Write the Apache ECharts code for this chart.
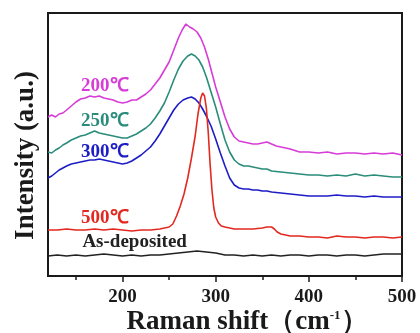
<!DOCTYPE html>
<html>
<head>
<meta charset="utf-8">
<script src="https://cdn.jsdelivr.net/npm/echarts@6/dist/echarts.min.js"></script>
<style>
  html, body { margin: 0; padding: 0; background: #fff; }
  #chart { width: 420px; height: 333px; }
</style>
</head>
<body>
<div id="chart"></div>
<script>
// values are relative offsets (a.u.)
const s200 = [[120,159],[124,161],[128,159],[132,162],[136,163],[140,166],[145,170],[150,174],[155,177],[160,178],[165,180],[170,179],[175,180],[180,178],[185,177],[190,176],[195,174],[200,173],[205,174],[210,176],[215,176],[220,179],[225,182],[230,186],[235,192],[240,198],[245,206],[250,214],[255,226],[260,238],[264,246],[268,252],[272,249],[276,247],[280,244],[284,238],[288,229],[292,217],[296,203],[300,189],[305,174],[310,159],[315,147],[320,139],[325,135],[330,134],[335,133],[340,132],[345,132],[350,133],[355,134],[360,132],[365,130],[370,129],[380,127],[390,124],[400,124],[410,123],[420,124],[430,122],[440,123],[450,123],[460,122],[470,123],[480,122],[490,123],[500,121]]
const s250 = [[120,124],[124,123],[128,126],[132,128],[136,131],[140,133],[145,136],[150,138],[155,140],[160,141],[165,143],[170,145],[175,143],[180,142],[185,141],[190,140],[195,139],[200,138],[205,138],[210,140],[215,142],[220,145],[225,148],[230,152],[235,158],[240,165],[245,173],[250,184],[255,196],[260,207],[265,215],[270,220],[274,222],[278,220],[282,216],[286,209],[290,199],[295,184],[300,169],[305,152],[310,136],[315,124],[320,116],[325,112],[330,110],[335,110],[340,109],[345,108],[350,107],[355,107],[360,105],[370,104],[380,103],[390,102],[400,101],[410,101],[420,100],[430,101],[440,100],[450,102],[460,100],[470,101],[480,100],[490,99],[500,99]]
const s300 = [[120,98],[124,100],[128,103],[132,106],[136,108],[140,110],[145,112],[150,113],[155,114],[160,115],[165,116],[170,116],[175,117],[180,116],[185,115],[190,114],[195,113],[200,112],[205,113],[210,115],[215,118],[220,121],[225,125],[230,129],[235,135],[240,142],[245,150],[250,158],[255,166],[260,172],[265,176],[270,178],[274,179],[278,177],[282,173],[286,167],[290,160],[295,150],[300,137],[305,123],[310,110],[315,98],[320,91],[325,88],[330,87],[335,87],[340,86],[345,86],[350,85],[355,85],[360,84],[370,83],[380,82],[390,81],[400,80],[410,80],[420,80],[430,81],[440,80],[450,80],[460,79],[470,80],[480,79],[490,79],[500,79]]
const s500 = [[120,46],[130,46],[140,47],[150,46],[160,46],[170,47],[180,46],[190,47],[200,46],[210,45],[220,46],[230,46],[240,47],[245,48],[250,49],[254,52],[258,60],[262,70],[266,82],[270,98],[274,118],[278,140],[281,162],[284,178],[286,183],[288,180],[290,168],[292,144],[294,112],[296,86],[298,68],[300,59],[303,53],[306,50],[310,49],[315,48],[320,47],[330,47],[340,47],[350,48],[355,49],[360,49],[363,47],[366,44],[370,42],[375,41],[380,40],[390,40],[400,39],[410,39],[420,38],[430,40],[440,39],[450,39],[460,38],[470,39],[480,39],[490,38],[500,39]]
const sAsDep = [[120,20],[130,21],[140,20],[150,21],[160,20],[170,21],[180,22],[190,21],[200,20],[210,21],[220,20],[230,21],[240,21],[250,22],[260,23],[270,24],[280,25],[290,24],[300,23],[310,21],[320,21],[330,20],[340,21],[350,20],[360,21],[370,20],[380,21],[390,21],[400,20],[410,21],[420,21],[430,20],[440,21],[450,21],[460,20],[470,21],[480,22],[490,22],[500,22]]

const majorTicks = [200, 300, 400, 500]
const minorTicks = [150, 250, 350, 450]

// label text + anchor in data coords
const labels = [
  { name: '200℃', at: [181, 190] },
  { name: '250℃', at: [181, 155] },
  { name: '300℃', at: [181, 124] },
  { name: '500℃', at: [181, 58] },
  { name: 'As-deposited', at: [213, 34] }
]

const colors = ['#d83cd8', '#2a8c7b', '#1d1dc6', '#e2281f', '#222222']
const seriesData = [s200, s250, s300, s500, sAsDep]
const serif = '"Liberation Serif", "Times New Roman", serif'

const chart = echarts.init(document.getElementById('chart'))

chart.setOption({
  animation: false,
  grid: {
    left: 48, right: 18, top: 13, bottom: 57, outerBoundsMode: 'none',
    show: true, borderColor: '#1a1a1a', borderWidth: 2
  },
  xAxis: [{
    type: 'value', min: 120, max: 500,
    name: '{a|Raman shift}{b|（cm}{s|-1}{b|）}',
    nameLocation: 'middle', nameGap: 33, nameMoveOverlap: false,
    nameTextStyle: {
      padding: [0, 0, 0, 44],
      rich: {
        a: { fontFamily: serif, fontWeight: 'bold', fontSize: 27, color: '#1a1a1a' },
        b: { fontFamily: serif, fontWeight: 'bold', fontSize: 27, color: '#1a1a1a' },
        s: { fontFamily: serif, fontWeight: 'bold', fontSize: 13, color: '#1a1a1a', verticalAlign: 'top', padding: [0, 0, 14, 0] }
      }
    },
    axisLine: { lineStyle: { color: '#1a1a1a', width: 2 } },
    axisTick: { customValues: majorTicks, length: 6, lineStyle: { color: '#1a1a1a', width: 1.5 } },
    axisLabel: { customValues: majorTicks, margin: 12, fontFamily: serif, fontWeight: 'bold', fontSize: 19, color: '#1a1a1a' },
    splitLine: { show: false }
  }, {
    type: 'value', min: 120, max: 500, position: 'bottom',
    axisLine: { show: false },
    axisTick: { customValues: minorTicks, length: 4, lineStyle: { color: '#1a1a1a', width: 1.5 } },
    axisLabel: { show: false },
    splitLine: { show: false }
  }],
  yAxis: {
    type: 'value', min: 0, max: 263,
    name: 'Intensity (a.u.)',
    nameLocation: 'middle', nameGap: 8, nameMoveOverlap: false,
    nameTextStyle: { fontFamily: serif, fontWeight: 'bold', fontSize: 27, color: '#1a1a1a', padding: [0, 22, 0, 0] },
    axisLine: { show: false }, axisTick: { show: false }, axisLabel: { show: false },
    splitLine: { show: false }
  },
  series: seriesData.map((d, i) => ({
    name: labels[i].name,
    type: 'line',
    data: d,
    showSymbol: false,
    lineStyle: { color: colors[i], width: 1.6 },
    markPoint: {
      symbol: 'circle', symbolSize: 1,
      itemStyle: { color: 'rgba(0,0,0,0)' },
      label: {
        show: true, position: 'inside', formatter: labels[i].name,
        fontFamily: serif, fontWeight: 'bold', fontSize: 19, color: colors[i]
      },
      data: [{ coord: labels[i].at }]
    }
  }))
})
</script>
</body>
</html>
